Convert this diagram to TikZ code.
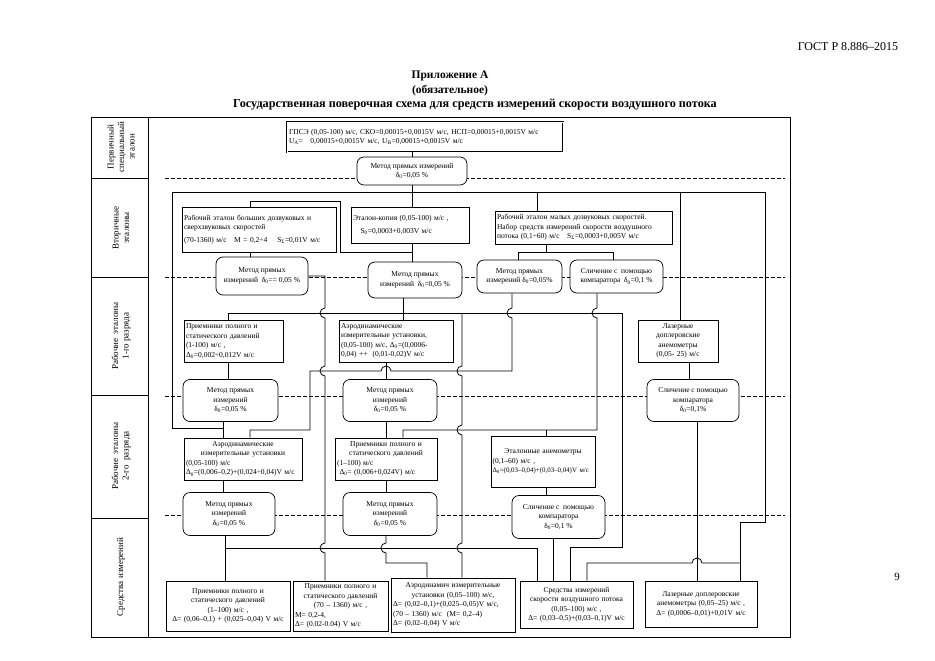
\documentclass[tikz,border=0pt]{standalone}
\usepackage{fontspec}
\setmainfont{Liberation Serif}
\usetikzlibrary{positioning}

\newcommand{\boxfont}{\fontsize{7.5}{9.5}\selectfont}
\newcommand{\ctr}[1]{\makebox[\hsize]{#1}}

\tikzstyle{etalon} = [
    rectangle,
    draw=black,
    fill=white,
    line width=0.7pt,
    inner sep=2pt,
    font=\boxfont
]
\tikzstyle{method} = [
    rectangle,
    rounded corners=7pt,
    draw=black,
    fill=white,
    line width=0.7pt,
    inner sep=1pt,
    align=center,
    font=\boxfont
]
\tikzstyle{rank} = [rotate=90, align=center, font=\fontsize{9}{10.5}\selectfont]
\tikzstyle{link} = [line width=0.8pt]
\tikzstyle{level} = [line width=0.7pt, dash pattern=on 3.5pt off 2.5pt]

\begin{document}
\begin{tikzpicture}[x=1pt, y=-1pt]
\useasboundingbox (0,0) rectangle (935,661);

% Header
\node (gost) at (848,47) [font=\fontsize{12}{14}\selectfont] {ГОСТ Р 8.886–2015};
\node (annex) at (450,76) [font=\bfseries\fontsize{11.5}{13}\selectfont] {Приложение А};
\node (oblig) at (450,91) [font=\bfseries\fontsize{11.5}{13}\selectfont] {(обязательное)};
\node (title) at (475,105) [font=\bfseries\fontsize{12.2}{13}\selectfont] {Государственная поверочная схема для средств измерений скорости воздушного потока};
\node (page) at (897,577) [font=\fontsize{11}{13}\selectfont] {9};

% Frame and rank column
\draw [link] (91,117) rectangle (790,637);
\draw [link] (148,117) -- (148,637);
\foreach \y in {178,277,395,518} \draw [link] (91,\y) -- (148,\y);
\node (rank0) at (121,147) [rank] {Первичный\\ специальный\\ эталон};
\node (rank1) at (121,228) [rank] {Вторичные\\ эталоны};
\node (rank2) at (121,336) [rank] {Рабочие \ эталоны\\ 1-го разряда};
\node (rank3) at (121,456) [rank] {Рабочие \ эталоны\\ 2-го \ разряда};
\node (rank4) at (121,577) [rank] {Средства измерений};

% Dashed level lines
\foreach \y in {178,277,396,515} \draw [level] (165,\y) -- (785,\y);

% Primary standard
\node (GPSE) at (425,137) [etalon, double, double distance=1pt, line width=0.8pt, text width=272pt, minimum height=30pt, align=left] {ГПСЭ (0,05-100) м/с, СКО=0,00015+0,0015V м/с, НСП=0,00015+0,0015V м/с\\ U\textsubscript{A}=\quad 0,00015+0,0015V м/с, U\textsubscript{B}=0,00015+0,0015V м/с};
\node (M1) at (412,171) [method, minimum width=110pt, minimum height=28pt] {Метод прямых измерений\\ δ\textsubscript{0}=0,05 \%};

% Secondary standards
\node (A2) at (259,229.5) [etalon, text width=150pt, minimum height=45pt, align=left] {Рабочий эталон больших дозвуковых и\\ сверхзвуковых скоростей\\[3pt] (70-1360) м/с \ \ M = 0,2÷4 \ \ \ S\textsubscript{Σ}=0,01V м/с};
\node (B2) at (410,225) [etalon, text width=114pt, minimum height=36pt, align=left] {Эталон-копия (0,05-100) м/с ,\\[3pt] \quad S\textsubscript{0}=0,0003+0,003V м/с};
\node (C2) at (583.5,227.5) [etalon, text width=173pt, minimum height=33pt, align=left] {Рабочий эталон малых дозвуковых скоростей.\\ Набор средств измерений скорости воздушного\\ потока (0,1÷60) м/с \ \ S\textsubscript{Σ}=0,0003+0,005V м/с};
\node (M2a) at (262,276) [method, minimum width=92pt, minimum height=38pt] {Метод прямых\\ измерений \ δ\textsubscript{0}== 0,05 \%};
\node (M2b) at (415,280) [method, minimum width=94pt, minimum height=36pt] {Метод прямых\\ измерений \ δ\textsubscript{0}=0,05 \%};
\node (M2c) at (519.5,276.5) [method, minimum width=85pt, minimum height=33pt] {Метод прямых\\ измерений δ\textsubscript{0}=0,05\%};
\node (K2) at (616.5,276.5) [method, minimum width=93pt, minimum height=33pt] {Сличение с \ помощью\\ компаратора \ δ\textsubscript{0}=0,1 \%};

% Working standards, 1st rank
\node (P3a) at (233.5,341) [etalon, text width=95pt, minimum height=42pt, align=left] {Приемники полного и\\ статического давлений\\ (1-100) м/с ,\\ Δ\textsubscript{0}=0,002÷0,012V м/с};
\node (P3b) at (396,341) [etalon, text width=110pt, minimum height=42pt, align=left] {Аэродинамические\\ измерительные установки,\\ (0,05-100) м/с, Δ\textsubscript{0}=(0,0006-\\ 0,04) ++ \ (0,01-0,02)V м/с};
\node (L3) at (678,341) [etalon, text width=76pt, minimum height=42pt, align=center] {Лазерные\\ доплеровские\\ анемометры\\ (0,05- 25) м/с};
\node (M3a) at (230.5,400.5) [method, minimum width=95pt, minimum height=42pt] {Метод прямых\\ измерений\\ δ\textsubscript{0}=0,05 \%};
\node (M3b) at (390,400.5) [method, minimum width=94pt, minimum height=42pt] {Метод прямых\\ измерений\\ δ\textsubscript{0}=0,05 \%};
\node (K3) at (693,400.5) [method, minimum width=92pt, minimum height=42pt] {Сличение с помощью\\ компаратора\\ δ\textsubscript{0}=0,1\%};

% Working standards, 2nd rank
\node (P4a) at (243,459) [etalon, text width=114pt, minimum height=42pt, align=left] {\ctr{Аэродинамические}\\ \ctr{измерительные установки}\\ (0,05-100) м/с\\ Δ\textsubscript{0}=(0,006–0,2)+(0,024÷0,04)V м/с};
\node (P4b) at (386,459) [etalon, text width=98pt, minimum height=42pt, align=left] {\ctr{Приемники полного и}\\ \ctr{статического давлений}\\ (1–100) м/с\\ \ Δ\textsubscript{0}= (0,006+0,024V) м/с};
\node (P4c) at (543,461.5) [etalon, inner sep=1.5pt, text width=101pt, minimum height=51pt, align=left] {\ctr{Эталонные анемометры}\\ (0,1–60) м/с ,\\ {\fontsize{6.9}{9.5}\selectfont Δ\textsubscript{0}=(0,03–0,04)+(0,03–0,04)V м/с}\\[6pt]};
\node (M4a) at (229,514) [method, minimum width=92pt, minimum height=43pt] {Метод прямых\\ измерений\\ δ\textsubscript{0}=0,05 \%};
\node (M4b) at (390,514) [method, minimum width=94pt, minimum height=43pt] {Метод прямых\\ измерений\\ δ\textsubscript{0}=0,05 \%};
\node (K4) at (558.5,517) [method, minimum width=93pt, minimum height=43pt] {Сличение с \ помощью\\ компаратора\\ δ\textsubscript{0}=0,1 \%};

% Measuring instruments
\node (S1) at (228,606) [etalon, text width=120pt, minimum height=50pt, align=center] {Приемники полного и\\ статического давлений\\ (1–100) м/с ,\\ Δ= (0,06–0,1) + (0,025–0,04) V м/с};
\node (S2) at (340.5,606) [etalon, text width=91pt, minimum height=50pt, align=left] {\ctr{Приемники полного и}\\ \ctr{статического давлений}\\ \ctr{(70 – 1360) м/с ,}\\ M= 0,2-4,\\ Δ= (0.02-0.04) V м/с};
\node (S3) at (453,605) [etalon, text width=120pt, minimum height=54pt, align=left] {\ctr{Аэродинамич измерительные}\\ \ctr{установки (0,05–100) м/с,}\\ Δ= (0,02–0,1)+(0,025–0,05)V м/с,\\ (70 – 1360) м/с \ (M= 0,2–4)\\ Δ= (0,02–0,04) V м/с};
\node (S4) at (576.5,604.5) [etalon, text width=109pt, minimum height=47pt, align=center] {Средства измерений\\ скорости воздушного потока\\ (0,05–100) м/с ,\\ Δ= (0,03–0,5)+(0,03–0,1)V м/с};
\node (S5) at (701,604) [etalon, text width=108pt, minimum height=46pt, align=center] {Лазерные доплеровские\\ анемометры (0,05–25) м/с ,\\ Δ= (0,0006–0,01)+0,01V м/с\\[5pt]};

% Connectors: primary and secondary
\coordinate (busL) at (172,192);
\coordinate (busR) at (765,192);
\draw [link] (M1.north) -- (M1.north |- GPSE.south);
\draw [link] (M1.south) -- (M1.south |- B2.north);
\draw [link] (busL) -- (busR);
\draw [link] (busL) -- (172,428) -- (223,428);
\draw [link] (537,192) -- (C2.north -| 537,0);
\draw [link] (680,192) -- (L3.north -| 680,0);
\draw [link] (busR) -- (765,522) -- (740,522) -- (S5.north -| 740,0);
\draw [link] (A2.north -| 250,0) -- (250,201) -- (340,201) -- (340,252) -- (412,252);
\draw [link] (A2.south -| 250,0) -- (M2a.north -| 250,0);
\draw [link] (B2.south -| 412,0) -- (M2b.north -| 412,0);
\draw [link] (C2.south -| 546,0) -- (546,252);
\draw [link] (M2c.north -| 518,0) |- (613,252) -- (K2.north -| 613,0);

% Connectors: to the 1st rank
\draw [link] (M2a.east) -- (325,276) -- (325,308) arc[start angle=90, end angle=270, radius=5pt]
    -- (325,366) arc[start angle=90, end angle=270, radius=5pt]
    -- (325,543) arc[start angle=90, end angle=270, radius=5pt] -- (S2.north -| 325,0);
\draw [link] (M2b.south -| 403,0) -- (P3b.north -| 403,0);
\draw [link] (P3a.north -| 228,0) -- (228,313) -- (622,313) -- (622,547) -- (570,547) -- (S4.north -| 570,0);
\draw [link] (462,313) -- (462,366) arc[start angle=90, end angle=270, radius=5pt]
    -- (462,425) arc[start angle=90, end angle=270, radius=5pt]
    -- (462,543) arc[start angle=90, end angle=270, radius=5pt] -- (S3.north -| 462,0);
\draw [link] (M2c.south -| 512,0) -- (512,308) arc[start angle=90, end angle=270, radius=5pt]
    -- (512,371) -- (391,371) arc[start angle=0, end angle=180, radius=5pt]
    -- (310,371) -- (310,430) -- (250,430) -- (P4a.north -| 250,0);
\draw [link] (K2.south -| 597,0) -- (597,308) arc[start angle=90, end angle=270, radius=5pt]
    -- (597,430) -- (403,430) -- (P4b.north -| 403,0);
\draw [link] (546,430) -- (P4c.north -| 546,0);
\draw [link] (L3.south -| 689,0) -- (K3.north -| 689,0);

% Connectors: to the 2nd rank
\draw [link] (P3a.south -| 228,0) -- (M3a.north -| 228,0);
\draw [link] (P3b.south -| 386,0) -- (M3b.north -| 386,0);
\draw [link] (M3a.south -| 223,0) -- (P4a.north -| 223,0);
\draw [link] (M3b.south -| 386,0) -- (P4b.north -| 386,0);
\draw [link] (P4a.south -| 223,0) -- (M4a.north -| 223,0);
\draw [link] (P4b.south -| 386,0) -- (M4b.north -| 386,0);
\draw [link] (P4c.south -| 546,0) -- (K4.north -| 546,0);

% Connectors: to measuring instruments
\draw [link] (M4a.south -| 225,0) -- (S1.north -| 225,0);
\draw [link] (225,548) -- (537,548) -- (S4.north -| 537,0);
\draw [link] (M4b.south -| 386,0) -- (386,543) arc[start angle=90, end angle=270, radius=5pt]
    -- (386,563) -- (427,563) -- (S3.north -| 427,0);
\draw [link] (K4.south -| 553,0) -- (S4.north -| 553,0);
\draw [link] (K3.south -| 697,0) -- (S5.north -| 697,0);
\draw [link] (740,563) -- (702,563) arc[start angle=0, end angle=180, radius=5pt]
    -- (587,563) -- (S4.north -| 587,0);

\end{tikzpicture}
\end{document}
